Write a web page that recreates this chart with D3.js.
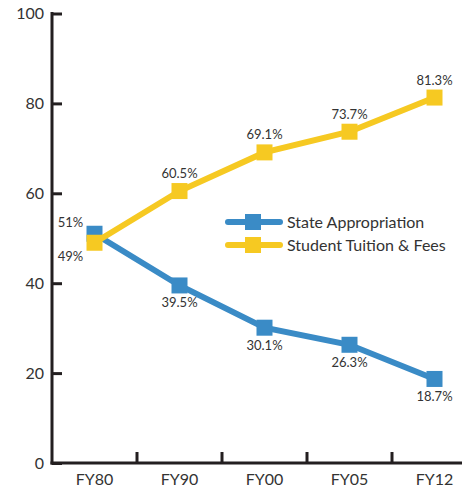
<!DOCTYPE html>
<html>
<head>
<meta charset="utf-8">
<script src="https://d3js.org/d3.v7.min.js"></script>
<style>
  body { margin: 0; background: #fff; }
  svg { display: block; }
  text { font-family: Lato, "Open Sans", sans-serif; fill: #333; }
  .axis path, .axis line { stroke: #231f20; stroke-width: 3px; }
  .tick text { font-size: 16px; }
  .lbl { font-size: 13px; }
  .legend text { font-size: 16px; }
</style>
</head>
<body>
<svg></svg>
<script>
// data
var years = ["FY80", "FY90", "FY00", "FY05", "FY12"];
var stateAppropriation = [51, 39.5, 30.1, 26.3, 18.7];
var tuitionFees = [49, 60.5, 69.1, 73.7, 81.3];
var stateLabels = ["51%", "39.5%", "30.1%", "26.3%", "18.7%"];
var tuitionLabels = ["49%", "60.5%", "69.1%", "73.7%", "81.3%"];
var yTicks = [0, 20, 40, 60, 80, 100];

var width = 462, height = 488;
var x0 = 52, x1 = 477, yTop = 13.5, yBottom = 463;

var svg = d3.select("svg").attr("width", width).attr("height", height);

var x = d3.scaleBand().domain(years).range([x0, x1]);
var y = d3.scaleLinear().domain([0, 100]).range([yBottom, yTop]);
var cx = function(d) { return x(d) + x.bandwidth() / 2; };

// y axis
var yAxis = svg.append("g").attr("class", "axis")
  .attr("transform", "translate(" + x0 + ",0)")
  .call(d3.axisLeft(y).tickValues(yTicks).tickSizeInner(-10).tickSizeOuter(0).tickPadding(8));
yAxis.select(".domain").attr("d", "M0," + (yTop - 1.5) + "V" + (yBottom + 1.5));

// x axis: ticks at band edges
var xAxisG = svg.append("g").attr("class", "axis")
  .attr("transform", "translate(0," + yBottom + ")");
xAxisG.append("path").attr("class", "domain")
  .attr("d", "M" + (x0 - 1.5) + ",0H" + x1).attr("fill", "none");
xAxisG.selectAll("line.edge").data(years.slice(1)).enter().append("line")
  .attr("x1", function(d) { return x(d); }).attr("x2", function(d) { return x(d); })
  .attr("y1", 0).attr("y2", -11);
xAxisG.selectAll("text.cat").data(years).enter().append("text")
  .attr("class", "cat")
  .attr("x", cx).attr("y", 22)
  .attr("text-anchor", "middle")
  .style("font-size", "16px")
  .text(function(d) { return d; });

var blue = "#3a8bc6", yellow = "#f6c922";
var sq = 16;

function drawSeries(values, color) {
  var line = d3.line().x(function(d, i) { return cx(years[i]); }).y(function(d) { return y(d); });
  svg.append("path").datum(values)
    .attr("d", line).attr("fill", "none")
    .attr("stroke", color).attr("stroke-width", 6);
  svg.selectAll(null).data(values).enter().append("rect")
    .attr("x", function(d, i) { return cx(years[i]) - sq / 2; })
    .attr("y", function(d) { return y(d) - sq / 2; })
    .attr("width", sq).attr("height", sq)
    .attr("fill", color);
}

drawSeries(stateAppropriation, blue);
drawSeries(tuitionFees, yellow);

// data labels
svg.selectAll(null).data(stateAppropriation).enter().append("text")
  .attr("class", "lbl")
  .attr("x", function(d, i) { return i === 0 ? cx(years[i]) - 24 : cx(years[i]); })
  .attr("y", function(d, i) { return i === 0 ? y(d) - 7 : y(d) + 22; })
  .attr("text-anchor", "middle")
  .text(function(d, i) { return stateLabels[i]; });

svg.selectAll(null).data(tuitionFees).enter().append("text")
  .attr("class", "lbl")
  .attr("x", function(d, i) { return i === 0 ? cx(years[i]) - 24 : cx(years[i]); })
  .attr("y", function(d, i) { return i === 0 ? y(d) + 18 : y(d) - 13; })
  .attr("text-anchor", "middle")
  .text(function(d, i) { return tuitionLabels[i]; });

// legend
var legend = svg.append("g").attr("class", "legend");
var legendItems = [
  { name: "State Appropriation", color: blue },
  { name: "Student Tuition & Fees", color: yellow }
];
legendItems.forEach(function(item, i) {
  var ly = 222 + i * 23;
  legend.append("line")
    .attr("x1", 228).attr("x2", 280).attr("y1", ly).attr("y2", ly)
    .attr("stroke", item.color).attr("stroke-width", 6).attr("stroke-linecap", "round");
  legend.append("rect")
    .attr("x", 253 - sq / 2).attr("y", ly - sq / 2).attr("width", sq).attr("height", sq)
    .attr("fill", item.color);
  legend.append("text")
    .attr("x", 287).attr("y", ly + 6)
    .text(item.name);
});
</script>
</body>
</html>
